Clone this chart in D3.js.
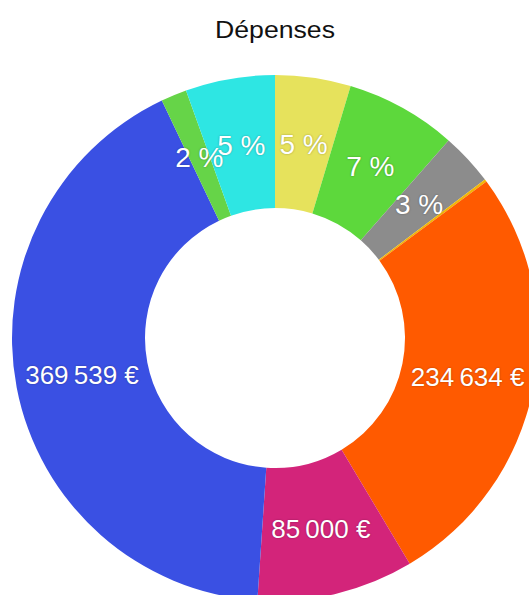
<!DOCTYPE html>
<html>
<head>
<meta charset="utf-8">
<script src="https://cdn.jsdelivr.net/npm/d3@7"></script>
<style>
  html, body { margin: 0; padding: 0; background: #fff; overflow: hidden; }
  svg { display: block; }
  text { font-family: "Liberation Sans", Arial, Helvetica, sans-serif; }
</style>
</head>
<body>
<script>
// Data (clockwise from 12 o'clock)
const categories = ["Poste A", "Poste B", "Poste C", "Poste D", "Poste E", "Poste F", "Poste G", "Poste H", "Poste I"];
const values = [41000, 60300, 28600, 1350, 234634, 85000, 369539, 14000, 48500];
const colors = ["#e6e25c", "#5dd83c", "#8c8c8c", "#f2b705", "#ff5a00", "#d3247a", "#3a50e3", "#66d448", "#2ee6e3"];
const title = "Dépenses";

const W = 529, H = 595;
const cx = 275, cy = 338, rOuter = 263, rInner = 130;

const svg = d3.select("body").append("svg").attr("width", W).attr("height", H);

svg.append("text")
  .attr("x", cx).attr("y", 38)
  .attr("text-anchor", "middle")
  .attr("font-size", 23)
  .attr("textLength", 120)
  .attr("lengthAdjust", "spacingAndGlyphs")
  .attr("fill", "#111")
  .text(title);

const data = categories.map((c, i) => ({ name: c, value: values[i], color: colors[i] }));
const total = d3.sum(values);

const pie = d3.pie().value(d => d.value).sort(null);
const arc = d3.arc().innerRadius(rInner).outerRadius(rOuter);
const labelArc = d3.arc().innerRadius((rInner + rOuter) / 2).outerRadius((rInner + rOuter) / 2);

const g = svg.append("g").attr("transform", `translate(${cx},${cy})`);
const arcs = pie(data);

g.selectAll("path").data(arcs).join("path")
  .attr("d", arc)
  .attr("fill", d => d.data.color);

const fr = d3.formatLocale({ decimal: ",", thousands: "\u2009", grouping: [3], currency: ["", "\u00a0€"] });
const fmtVal = fr.format("$,.0f");

g.selectAll("text.lbl").data(arcs.filter(d => d.data.value / total >= 0.01)).join("text")
  .attr("class", "lbl")
  .attr("transform", d => `translate(${labelArc.centroid(d)})`)
  .attr("text-anchor", "middle")
  .attr("dy", "0.36em")
  .attr("fill", "#fff")
  .attr("font-size", d => d.data.value >= 80000 ? 26 : 28)
  .style("text-shadow", "0 0 2px rgba(0,0,0,0.35)")
  .text(d => d.data.value >= 80000 ? fmtVal(d.data.value) : Math.round(d.data.value / total * 100) + "\u00a0%");
</script>
</body>
</html>
